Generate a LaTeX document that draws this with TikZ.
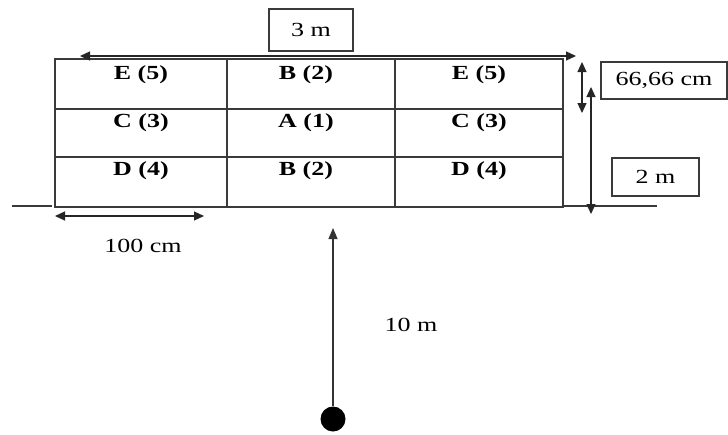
\documentclass[tikz,border=0pt]{standalone}
\usepackage{fontspec}
\setmainfont{Liberation Serif}[FakeStretch=1.3]
\usetikzlibrary{arrows.meta}
\definecolor{lin}{HTML}{3a3a3a}
\tikzset{
  gridline/.style={draw=lin, line width=1.4pt},
  dimline/.style={draw=black!85, line width=1.2pt, arrows={Triangle[length=10pt,width=9pt]-Triangle[length=10pt,width=9pt]}},
  upline/.style={draw=black!80, line width=1.2pt, -{Triangle[length=11pt,width=9pt]}},
  lbox/.style={draw=lin, line width=1.2pt, inner sep=0pt, font=\fontsize{20}{23}\selectfont},
  cell/.style={font=\fontsize{20}{23}\selectfont\bfseries, inner sep=0pt},
  plain/.style={font=\fontsize{20}{23}\selectfont, inner sep=0pt}
}
\begin{document}
\begin{tikzpicture}[x=1pt,y=-1pt]
\useasboundingbox[fill=white] (0,0) rectangle (728,434);
% grid
\draw[gridline] (55,59) rectangle (563,207);
\draw[gridline] (55,109) -- (563,109);
\draw[gridline] (55,157) -- (563,157);
\draw[gridline] (227,59) -- (227,207);
\draw[gridline] (395,59) -- (395,207);
% cells
\node[cell] (c11) at (141,75) {E (5)};
\node[cell] (c12) at (306,75) {B (2)};
\node[cell] (c13) at (479,75) {E (5)};
\node[cell] (c21) at (141,123) {C (3)};
\node[cell] (c22) at (306,123) {A (1)};
\node[cell] (c23) at (479,123) {C (3)};
\node[cell] (c31) at (141,171) {D (4)};
\node[cell] (c32) at (306,171) {B (2)};
\node[cell] (c33) at (479,171) {D (4)};
% top dimension
\coordinate (tl) at (80,56);
\coordinate (tr) at (576,56);
\draw[dimline] (tl) -- (tr);
\node[lbox, minimum width=84pt, minimum height=42pt] (b3) at (311,30) {3 m};
% ground lines
\coordinate (gl1) at (12,206);
\coordinate (gl2) at (52,206);
\draw[gridline] (gl1) -- (gl2);
\coordinate (gr1) at (563,206);
\coordinate (gr2) at (657,206);
\draw[gridline] (gr1) -- (gr2);
% right dimensions
\coordinate (s1) at (582,62);
\coordinate (s2) at (582,113);
\draw[dimline] (s1) -- (s2);
\coordinate (l1) at (591,87);
\coordinate (l2) at (591,214);
\draw[dimline] (l1) -- (l2);
\node[lbox, minimum width=126pt, minimum height=37pt] (b66) at (664,80.5) {66,66 cm};
\node[lbox, minimum width=87pt, minimum height=38pt] (b2) at (655.5,177) {2 m};
% bottom dimension
\coordinate (bl) at (55,216);
\coordinate (br) at (204,216);
\draw[dimline] (bl) -- (br);
\node[plain] (t100) at (143,246) {100 cm};
% observer
\node[circle, fill=black, minimum size=25pt, inner sep=0pt] (eye) at (333,419) {};
\coordinate (tip) at (333,228);
\draw[upline] (eye.north) -- (tip);
\node[plain] (t10) at (411,325) {10 m};
\end{tikzpicture}
\end{document}
